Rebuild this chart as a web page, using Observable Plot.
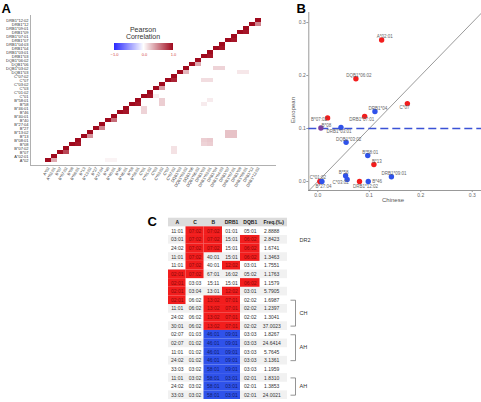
<!DOCTYPE html>
<html><head><meta charset="utf-8">
<script src="https://cdn.jsdelivr.net/npm/d3@7"></script>
<script src="https://cdn.jsdelivr.net/npm/@observablehq/plot@0.6"></script>
<style>
body{margin:0;background:#fff;}
#root{position:relative;width:481px;height:402px;overflow:hidden;font-family:"Liberation Sans",Arial,sans-serif;background:#fff;}
.abs{position:absolute;}
#pa text{fill:#333;}
#pb text{fill:#666;}
#leg line{display:none;}
#leg text{fill:#d04040;}
</style></head><body><div id="root"></div>
<script>
// ---------- Panel A data ----------
const alleles = ["A*02","A*02:01","B*07","B*07:02","B*08","B*08:01","B*13","B*13:02","B*27","B*27:04","B*40","B*40:01","B*46","B*46:01","B*58","B*58:01","C*01","C*01:02","C*03","C*03:02","C*07","C*07:02","DQB1*03","DQB1*03:02","DQB1*06","DQB1*06:02","DRB1*03","DRB1*03:01","DRB1*04","DRB1*04:03","DRB1*07","DRB1*07:01","DRB1*09","DRB1*09:01","DRB1*12","DRB1*12:02"];
// correlation between each gene-group and its allele (pairs along diagonal)
const pairCorr = [0.35,0.75,0.95,0.45,0.5,0.6,0.95,0.95,0.95,0.4,0.9,0.3,0.35,0.95,0.95,0.95,0.95,0.5];
// weaker off-diagonal correlations
const ldRow = ["B*08","B*08:01","B*08","B*08:01","B*13","B*13:02","B*13","B*13:02","DQB1*03:02","DQB1*03:02","C*07","C*07","B*58","B*58:01","B*58","B*58:01","B*46","B*46:01","B*07","B*07:02","DQB1*03","DQB1*03","A*02","A*02","C*01"];
const ldCol = ["DRB1*03","DRB1*03","DRB1*03:01","DRB1*03:01","DRB1*07","DRB1*07","DRB1*07:01","DRB1*07:01","DRB1*04","DRB1*04:03","DRB1*03","DRB1*03:01","C*03:02","C*03:02","DRB1*03","DRB1*03:01","C*01","C*01","C*07:02","C*07:02","DRB1*09","DRB1*09:01","B*40","B*40:01","C*03"];
const ldR   = [0.18,0.2,0.2,0.22,0.25,0.25,0.25,0.25,0.18,0.18,0.14,0.14,0.2,0.2,0.08,0.08,0.18,0.18,0.12,0.12,0.1,0.1,0.05,0.05,0.07];

// ---------- Panel B data ----------
const bLabel = ["A*02:01","DQB1*06:02","C*07","DRB1*04","DRB1*07:01","B*07:02","B*08","DRB1*03:01","DQB1*03:02","B*58:01","B*13","DRB1*09:01","B*58","C*03:02","C*01:02","B*27:04","DRB1*12:02","B*46"];
const bChinese  = [0.124,0.074,0.174,0.111,0.091,0.019,0.006,0.045,0.055,0.097,0.109,0.143,0.054,0.057,0.004,0.008,0.081,0.098];
const bEuropean = [0.267,0.194,0.147,0.132,0.123,0.120,0.101,0.102,0.074,0.049,0.032,0.009,0.011,0.004,0.000,0.000,0.000,0.000];
const bGroup = ["up","up","up","down","up","up","both","down","down","down","up","down","down","down","up","down","up","down"];
const bThreshold = 0.1;

// ---------- Panel C data ----------
const tableCols = ["A","C","B","DRB1","DQB1","Freq.(‰)"];
const colA    = ["11:01","03:01","24:02","11:01","11:01","02:01","02:01","02:01","02:01","11:01","24:02","30:01","02:07","02:07","11:01","24:02","33:03","11:01","24:02","33:03"];
const colC    = ["07:02","07:02","07:02","07:02","07:02","07:02","03:03","03:04","06:02","06:02","06:02","06:02","01:03","01:02","01:02","01:02","03:02","03:02","03:02","03:02"];
const colB    = ["07:02","07:02","07:02","40:01","40:01","67:01","15:11","13:01","13:02","13:02","13:02","13:02","46:01","46:01","46:01","46:01","58:01","58:01","58:01","58:01"];
const colDRB1 = ["01:01","15:01","15:01","15:01","12:02","16:02","15:01","12:02","07:01","07:01","07:01","07:01","09:01","09:01","09:01","09:01","09:01","03:01","03:01","03:01"];
const colDQB1 = ["05:01","06:02","06:02","06:02","03:01","05:02","06:02","03:01","02:02","02:02","02:02","02:02","03:03","03:03","03:03","03:03","03:03","02:01","02:01","02:01"];
const colFreq = ["2.8888","2.8423","1.6741","1.3463","1.7551","1.1763","1.1579","5.7905","1.6987","1.2397","1.3041","37.0023","1.8267","24.6414","5.7645","3.1361","1.1959","1.8310","1.3853","24.0021"];
const riskCols = [["C","B"],["C","B","DQB1"],["C","B","DQB1"],["C","DQB1"],["C","DRB1"],["A","C"],["A","DQB1"],["A","DRB1"],["A","B","DRB1"],["B","DRB1"],["B","DRB1"],["B","DRB1"],[],[],[],[],[],[],[],[]];
const protCols = [[],[],[],[],[],[],[],[],[],[],[],[],["B","DRB1"],["B","DRB1"],["B","DRB1"],["B","DRB1"],["B","DRB1"],["B","DRB1"],["B","DRB1"],["B","DRB1"]];
const groupLabel = ["DR2","CH","AH","AH"];
const groupFirst = [1,8,12,17];
const groupLast  = [1,11,15,19];

// ---------- styles / layout ----------
const FONT = "'Liberation Sans', Arial, sans-serif";
const RED = "#f21d1d", BLUE = "#2f52ea", PURPLE = "#7b3fa0";
const root = document.getElementById("root");
function place(el, left, top, id) {
  const d = document.createElement("div");
  d.className = "abs"; d.style.left = left + "px"; d.style.top = top + "px";
  if (id) d.id = id;
  d.appendChild(el); root.appendChild(d); return d;
}

// ---------- Panel A ----------
const cells = [];
for (let i = 0; i < alleles.length; i++) for (let j = i; j < alleles.length; j++) {
  let v = 0;
  if (i === j) v = 1;
  else if (j === i + 1 && i % 2 === 0) v = pairCorr[i / 2];
  cells.push({x: alleles[j], y: alleles[i], v});
}
ldRow.forEach((r, k) => {
  const c = cells.find(d => d.y === r && d.x === ldCol[k]);
  if (c) c.v = ldR[k];
});
const corrColor = {type: "linear", domain: [-1, 0, 1], range: ["#2a2aff", "#ffffff", "#a00a1e"]};
const pA = Plot.plot({
  width: 280, height: 200, marginLeft: 30, marginRight: 5, marginTop: 15, marginBottom: 35,
  style: {background: "transparent", fontSize: "4px", fontFamily: FONT, color: "#b0b0b0"},
  x: {domain: alleles, padding: 0, tickRotate: -60, tickSize: 0, tickPadding: 2, label: null, line: true},
  y: {domain: alleles.slice().reverse(), padding: 0, tickSize: 0, tickPadding: 2, label: null, line: true},
  color: corrColor,
  marks: [Plot.cell(cells, {x: "x", y: "y", fill: "v", inset: 0})]
});
place(pA, 0, 0, "pa");

const leg = Plot.legend({
  color: corrColor, width: 59, height: 15, marginTop: 0, marginBottom: 8, marginLeft: 0, marginRight: 0,
  tickSize: 0, ticks: [-1, 0, 1], label: null,
  style: {background: "transparent", fontSize: "4px", fontFamily: FONT, color: "#d04040", overflow: "visible"}
});
place(leg, 114, 43, "leg");

// ---------- Panel B ----------
const pts = bLabel.map((l, i) => ({label: l, x: bChinese[i], y: bEuropean[i], g: bGroup[i]}));
const xDom = [-0.0175, 0.318], yDom = [-0.017, 0.319];
const labelOffset = {
  "A*02:01": [3, -4, "middle"], "DQB1*06:02": [3, -3.5, "middle"], "C*07": [-3, 3.5, "middle"],
  "DRB1*04": [3, -3, "middle"], "DRB1*07:01": [-3, 3.5, "middle"], "B*07:02": [-8.5, 2, "middle"],
  "B*08": [5.5, -2.5, "middle"], "DRB1*03:01": [-2, 4, "middle"], "DQB1*03:02": [2.5, -2.5, "middle"],
  "B*58:01": [2.5, -3, "middle"], "B*13": [3, -3, "middle"], "DRB1*09:01": [2.5, -3, "middle"],
  "B*58": [-2, -3, "middle"], "C*03:02": [-6.5, 3, "middle"], "C*01:02": [-2, -3.5, "middle"],
  "B*27:04": [1.5, 5, "middle"], "DRB1*12:02": [6, 5, "middle"], "B*46": [4, 0, "start"]
};
const pB = Plot.plot({
  width: 241, height: 200, marginLeft: 68.3, marginRight: 0, marginTop: 12, marginBottom: 10,
  style: {background: "transparent", fontSize: "5px", fontFamily: FONT, color: "#999"},
  x: {domain: xDom, ticks: [0, 0.1, 0.2, 0.3], tickFormat: ".1f", tickSize: 2, tickPadding: 1, label: null, line: true},
  y: {domain: yDom, ticks: [0, 0.1, 0.2, 0.3], tickFormat: ".1f", tickSize: 2, tickPadding: 1, label: null, line: true},
  color: {domain: ["up", "down", "both"], range: [RED, BLUE, PURPLE]},
  marks: [
    Plot.link([0], {x1: () => xDom[0], y1: () => xDom[0], x2: () => xDom[1], y2: () => xDom[1], stroke: "#555", strokeWidth: 0.6}),
    Plot.ruleY([bThreshold], {stroke: "#3a52d6", strokeWidth: 1.3, strokeDasharray: "8,4"}),
    Plot.dot(pts, {x: "x", y: "y", fill: "g", r: 2.7}),
    ...pts.map(p => {
      const [dx, dy, anchor] = labelOffset[p.label];
      return Plot.text([p], {x: "x", y: "y", text: "label", dx, dy, textAnchor: anchor, fontSize: 4.5, fill: "#333"});
    })
  ]
});
place(pB, 240, 0, "pb");

// ---------- Panel C ----------
const colWidths = [17.5, 18, 18.5, 18, 19.5, 27.5];
const colEdge = [0]; colWidths.forEach(w => colEdge.push(colEdge[colEdge.length - 1] + w));
const colData = [colA, colC, colB, colDRB1, colDQB1, colFreq];
const tCells = [];
colData.forEach((arr, c) => arr.forEach((v, r) => {
  const name = tableCols[c];
  const kind = riskCols[r].includes(name) ? "risk" : protCols[r].includes(name) ? "prot" : "none";
  tCells.push({c, r, v, kind});
}));
const head = tableCols.map((t, c) => ({c, r: -1, v: t}));
const rowsIdx = colA.map((_, r) => r);
const total = colEdge[colEdge.length - 1];
const groups = groupLabel.map((l, i) => ({l, a: groupFirst[i], b: groupLast[i]}));
const pC = Plot.plot({
  width: 200, height: 202, marginLeft: 28, marginRight: 200 - 28 - total, marginTop: 17.7, marginBottom: 3,
  style: {background: "transparent", fontSize: "5px", fontFamily: FONT, color: "#333"},
  x: {domain: [0, total], axis: null},
  y: {domain: [-1.5, 19.5], reverse: true, axis: null},
  marks: [
    Plot.rect([0], {x1: () => 0, x2: () => total, y1: () => -1.5, y2: () => -0.5, fill: "#dcdcdc"}),
    Plot.rect(rowsIdx.filter(r => r % 2 === 1), {x1: () => 0, x2: () => total, y1: r => r - 0.5, y2: r => r + 0.5, fill: "#f1f1f1"}),
    Plot.rect(tCells.filter(d => d.kind !== "none"), {x1: d => colEdge[d.c], x2: d => colEdge[d.c + 1], y1: d => d.r - 0.5, y2: d => d.r + 0.5, fill: d => d.kind === "risk" ? RED : BLUE}),
    Plot.text(head, {x: d => (colEdge[d.c] + colEdge[d.c + 1]) / 2, y: "r", text: "v", fontWeight: "bold", fill: "#222", fontSize: 5})
    ,
    Plot.text(tCells, {x: d => (colEdge[d.c] + colEdge[d.c + 1]) / 2 - (d.c === 5 ? 2 : 0), y: "r", text: "v", fontSize: 5,
      fill: d => d.kind === "risk" ? "#8a0a0a" : d.kind === "prot" ? "#101e6e" : "#333"}),
    Plot.link(groups.filter(g => g.b > g.a), {x1: () => total + 8, x2: () => total + 8, y1: "a", y2: "b", stroke: "#666", strokeWidth: 0.7}),
    Plot.link(groups.filter(g => g.b > g.a), {x1: () => total + 3, x2: () => total + 8, y1: "a", y2: "a", stroke: "#666", strokeWidth: 0.7}),
    Plot.link(groups.filter(g => g.b > g.a), {x1: () => total + 3, x2: () => total + 8, y1: "b", y2: "b", stroke: "#666", strokeWidth: 0.7}),
    Plot.text(groups, {x: () => total + 12, y: g => (g.a + g.b) / 2, text: "l", textAnchor: "start", fontSize: 5.5, fill: "#333"})
  ]
});
place(pC, 140, 200, "pc");

// ---------- annotations ----------
const ns = "http://www.w3.org/2000/svg";
const ov = document.createElementNS(ns, "svg");
ov.setAttribute("width", 481); ov.setAttribute("height", 402);
ov.setAttribute("style", "position:absolute;left:0;top:0;pointer-events:none;font-family:" + FONT);
ov.innerHTML = `
<text x="1.5" y="12.5" font-size="13" font-weight="bold" fill="#000">A</text>
<text x="296.5" y="12.5" font-size="13" font-weight="bold" fill="#000">B</text>
<text x="147.5" y="225.5" font-size="13" font-weight="bold" fill="#000">C</text>
<text x="143" y="31.5" text-anchor="middle" font-size="7" fill="#333">Pearson</text>
<text x="143" y="39" text-anchor="middle" font-size="7" fill="#333">Correlation</text>
<text x="393" y="201.5" text-anchor="middle" font-size="6" fill="#555">Chinese</text>
<text transform="translate(295,110) rotate(-90)" text-anchor="middle" font-size="6" fill="#555">European</text>`;
root.appendChild(ov);
</script></body></html>
